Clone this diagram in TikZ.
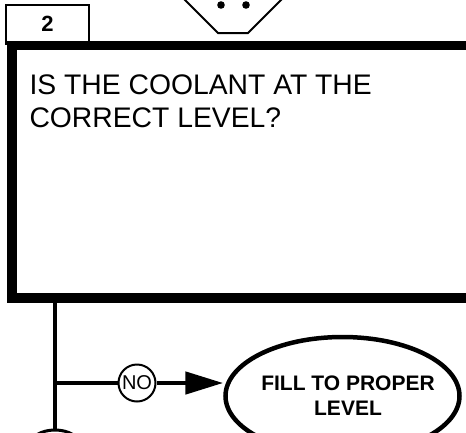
\documentclass[tikz,border=0pt]{standalone}
\usepackage{fontspec}
\setmainfont{Liberation Sans}
\usetikzlibrary{shapes.geometric,arrows.meta}
\tikzset{
  thinline/.style={line width=2pt},
  flowline/.style={line width=4.8pt},
  answer/.style={circle,draw,thinline,minimum size=37pt,inner sep=0pt,font=\fontsize{20}{20}\selectfont},
  action/.style={ellipse,draw,line width=4.5pt,minimum width=234pt,minimum height=118pt,inner sep=0pt},
  actiontext/.style={align=center,font=\bfseries\fontsize{21}{25}\selectfont}
}
\begin{document}
\begin{tikzpicture}[x=1pt,y=-1pt]
\useasboundingbox (0,0) rectangle (466,432);
\clip (0,0) rectangle (466,432);
% step number tab
\draw[thinline] (6,5) rectangle (89,44);
\node[font=\bfseries\fontsize{22}{22}\selectfont] (stepnum) at (47.5,24) {2};
% off-page connector
\draw[thinline] (183,-2) -- (218,33) -- (248,33) -- (283,-2);
\fill (221,5) circle (3.8) (246,5) circle (3.8);
% question box
\draw[line width=9.5pt] (11.75,45.5) rectangle (490,298);
\node[anchor=north west,align=left,font=\fontsize{28.3}{33}\selectfont] (question) at (26,71)
  {IS THE COOLANT AT THE\\CORRECT LEVEL?};
% answers
\coordinate (boxout) at (55,298);
\coordinate (branch) at (55,383);
\node[answer] (no) at (137,383) {NO};
\node[action] (fill) at (342.5,396) {};
\node[actiontext] (filltext) at (348,396) {FILL TO PROPER\\LEVEL};
\node[ellipse,draw,line width=3pt,minimum width=50pt,minimum height=30pt] (next) at (55,445) {};
\draw[flowline] (boxout) -- (next);
\draw[flowline] (branch) -- (no);
\draw[flowline,-{Triangle[length=38pt,width=22pt]}] (no) -- (no -| fill.west);
\end{tikzpicture}
\end{document}
